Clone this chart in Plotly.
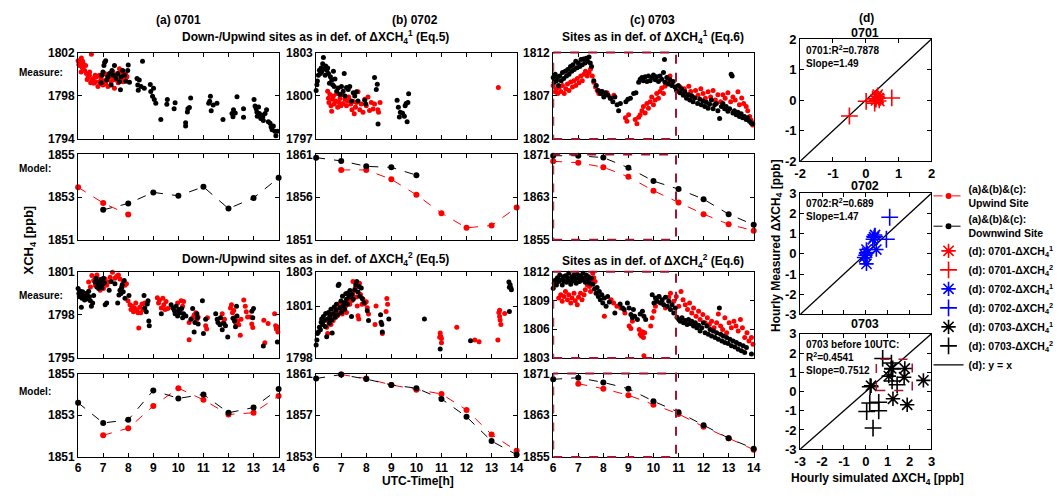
import plotly.graph_objects as go

W, H = 1059, 496
FONT = 'Liberation Sans'
RED, BLK, BLUE, BOXC = '#FF0000', '#000000', '#0000FF', '#A2142F'

def fx(p):
    return p / W

def fy(p):
    return 1 - p / H

# ---------------- data ----------------
hours = [6, 7, 8, 9, 10, 11, 12, 13, 14]
hour_labels = ['6', '7', '8', '9', '10', '11', '12', '13', '14']

# measurement, row 1 (def. dXCH4^1)
a1_up = [(6.0,1801.25),(6.03,1800.9),(6.08,1801.1),(6.13,1801.5),(6.16,1800.65),(6.21,1800.95),(6.26,1800.35),
         (6.33,1800.05),(6.4,1799.75),(6.46,1800.2),(6.53,1801.85),(6.55,1799.45),(6.63,1799.15),(6.73,1799.75),
         (6.79,1798.85),(6.86,1799.3),(6.92,1799.6),(6.99,1799.0),(7.06,1800.05),(7.12,1799.45),(7.19,1798.85),
         (7.25,1799.75),(7.32,1799.3),(7.39,1800.2),(7.45,1798.7),(7.52,1799.45),(7.65,1800.5),(7.72,1799.6),
         (7.78,1800.05),(7.87,1799.45),(7.95,1799.75),(6.05,1800.8),(6.1,1801.3),(6.2,1800.5),(6.3,1800.8),
         (6.45,1799.9),(6.6,1799.6),(6.7,1799.3),(6.85,1799.9),(6.95,1799.4),(7.1,1799.1),(7.2,1799.6),
         (7.3,1800.0),(7.4,1799.5),(7.55,1799.9),(7.6,1799.2),(7.7,1800.3),(7.8,1799.3),(7.9,1800.0),
         (6.12,1800.2),(6.18,1801.2),(6.36,1799.5),(6.5,1799.2),(6.68,1799.9),(6.9,1799.1),(7.15,1799.9)]
a1_dn = [(6.92,1799.2),(6.95,1799.9),(6.99,1800.2),(7.03,1800.8),(7.06,1801.1),(7.1,1801.25),(7.14,1799.45),
         (7.19,1799.75),(7.25,1800.05),(7.32,1799.0),(7.35,1800.35),(7.4,1799.9),(7.45,1800.8),(7.52,1799.6),
         (7.58,1800.05),(7.65,1799.3),(7.69,1798.55),(7.72,1799.75),(7.78,1800.35),(7.85,1799.9),(7.91,1799.35),
         (7.98,1800.35),(8.0,1800.85),(8.05,1799.25),(8.35,1799.6),(8.38,1799.0),(8.4,1798.5),(8.44,1799.45),
         (8.51,1798.85),(8.57,1801.2),(8.64,1798.7),(8.88,1799.05),(8.9,1798.4),(8.97,1797.95),(9.01,1798.7),
         (9.04,1797.65),(9.1,1797.3),(9.3,1795.8),(9.54,1797.2),(9.56,1797.65),(9.83,1796.8),(9.87,1797.35),
         (10.29,1795.5),(10.29,1795.2),(10.36,1796.5),(10.38,1796.8),(10.44,1796.9),(10.49,1797.8),(11.21,1797.3),
         (11.25,1797.5),(11.28,1797.95),(11.31,1796.6),(11.39,1797.15),(11.54,1797.3),(11.78,1795.8),(12.14,1796.35),
         (12.18,1796.05),(12.2,1796.7),(12.27,1796.4),(12.34,1797.9),(12.6,1796.0),(12.6,1796.8),(13.02,1797.65),
         (13.06,1797.05),(13.1,1796.8),(13.13,1796.5),(13.15,1796.1),(13.2,1796.95),(13.23,1796.35),(13.29,1795.9),
         (13.33,1796.2),(13.37,1796.05),(13.39,1795.7),(13.46,1796.35),(13.52,1796.7),(13.59,1795.6),(13.66,1795.45),
         (13.7,1795.1),(13.74,1794.85),(13.79,1795.2),(13.85,1794.7),(13.89,1794.3),(13.95,1794.7)]
b1_up = [(6.46,1800.31),(6.49,1799.82),(6.51,1799.53),(6.55,1800.09),(6.59,1799.31),(6.62,1798.93),(6.65,1799.76),
         (6.69,1799.98),(6.72,1799.42),(6.78,1799.64),(6.82,1800.13),(6.86,1799.2),(6.91,1799.53),(6.95,1799.8),
         (6.99,1799.31),(7.04,1800.09),(7.08,1799.46),(7.15,1799.76),(7.21,1799.31),(7.25,1799.64),(7.3,1799.91),
         (7.38,1799.42),(7.43,1799.02),(7.48,1799.6),(7.52,1798.75),(7.57,1799.2),(7.61,1799.53),(7.67,1800.27),
         (7.74,1799.02),(7.8,1799.42),(7.87,1798.86),(7.94,1799.76),(8.0,1799.31),(8.07,1799.91),(8.13,1798.97),
         (8.2,1799.53),(8.27,1799.08),(8.33,1799.42),(8.46,1799.02),(8.49,1798.86),(8.55,1799.53),(13.27,1800.58)]
b1_dn = [(6.0,1800.36),(6.03,1800.76),(6.05,1801.03),(6.09,1801.43),(6.13,1801.77),(6.17,1801.54),(6.2,1801.93),
         (6.22,1801.66),(6.26,1802.22),(6.29,1802.66),(6.32,1801.88),(6.36,1801.43),(6.38,1802.06),(6.42,1801.77),
         (6.46,1801.93),(6.49,1801.54),(6.53,1800.87),(6.57,1801.32),(6.62,1801.1),(6.66,1800.76),(6.69,1801.7),
         (6.72,1800.65),(6.75,1801.17),(6.82,1800.31),(6.88,1800.54),(6.95,1800.09),(7.01,1800.65),(7.08,1800.31),
         (7.12,1801.54),(7.15,1799.98),(7.21,1800.58),(7.28,1800.43),(7.34,1800.65),(7.41,1799.64),(7.48,1800.2),
         (7.54,1799.98),(7.61,1800.27),(7.67,1799.64),(7.94,1799.69),(7.98,1799.42),(8.33,1801.26),(8.4,1800.43),
         (8.44,1800.8),(8.47,1798.03),(9.23,1799.69),(9.28,1799.2),(9.32,1798.52),(9.36,1798.86),(9.45,1798.79),
         (9.52,1798.57),(9.55,1799.31),(9.59,1799.46),(9.63,1798.19),(9.66,1799.53),(9.69,1800.13)]
c1_up = [(6.0,1808.2),(6.08,1807.45),(6.13,1807.8),(6.18,1807.25),(6.24,1808.0),(6.3,1807.5),(6.37,1808.2),
         (6.44,1807.25),(6.5,1807.8),(6.57,1808.35),(6.63,1807.6),(6.7,1808.6),(6.77,1808.0),(6.83,1808.75),
         (6.9,1808.2),(6.96,1809.0),(7.03,1808.5),(7.1,1809.3),(7.16,1808.75),(7.23,1809.5),(7.29,1809.85),
         (7.36,1809.3),(7.43,1809.7),(7.49,1810.1),(7.56,1809.3),(7.62,1808.55),(7.69,1808.0),(7.76,1807.6),
         (7.82,1807.25),(7.93,1807.5),(8.02,1807.05),(8.15,1807.35),(8.28,1806.7),(8.42,1807.05),(8.88,1804.45),
         (8.94,1804.05),(9.01,1804.8),(9.27,1804.25),(9.34,1803.75),(9.41,1804.5),(9.47,1804.8),(9.54,1805.25),
         (9.6,1805.75),(9.67,1805.0),(9.74,1806.1),(9.8,1805.55),(9.87,1806.3),(9.93,1806.85),(10.0,1805.95),
         (10.07,1806.5),(10.13,1807.25),(10.2,1806.7),(10.26,1807.5),(10.33,1807.9),(10.4,1807.25),(10.46,1808.1),
         (10.59,1808.75),(10.66,1809.3),(10.73,1808.55),(10.86,1808.0),(10.96,1807.5),(11.06,1808.0),(11.15,1807.35),
         (11.23,1807.8),(11.32,1807.1),(11.41,1808.1),(11.49,1807.5),(11.58,1806.85),(11.68,1807.6),(11.78,1807.05),
         (11.89,1807.8),(11.98,1807.25),(12.07,1806.7),(12.18,1807.45),(12.28,1806.85),(12.38,1807.6),(12.47,1806.5),
         (12.57,1807.1),(12.68,1806.3),(12.77,1807.1),(12.86,1806.7),(12.97,1807.35),(13.08,1806.3),(13.17,1806.85),
         (13.26,1806.5),(13.37,1807.45),(13.43,1805.95),(13.52,1806.75),(13.6,1806.1),(13.7,1805.75),(13.76,1805.25),
         (13.84,1804.6),(13.9,1804.15),(13.96,1803.6)]
c1_dn = [(6.0,1809.1),(6.04,1808.55),(6.08,1809.5),(6.13,1808.75),(6.17,1809.1),(6.21,1808.2),(6.26,1809.3),
         (6.32,1808.75),(6.37,1809.7),(6.42,1809.0),(6.48,1809.85),(6.53,1809.3),(6.58,1810.05),(6.63,1809.5),
         (6.69,1810.4),(6.74,1809.85),(6.79,1810.6),(6.84,1810.05),(6.9,1811.0),(6.95,1810.25),(7.0,1810.8),
         (7.06,1810.4),(7.11,1811.2),(7.16,1810.6),(7.21,1811.25),(7.27,1810.8),(7.32,1811.35),(7.37,1811.0),
         (7.43,1811.5),(7.48,1810.8),(7.53,1810.4),(7.62,1808.75),(7.72,1808.2),(7.8,1807.6),(7.89,1807.25),
         (7.95,1807.5),(8.02,1806.85),(8.09,1807.35),(8.19,1807.05),(8.28,1806.7),(8.38,1806.3),(8.46,1806.85),
         (8.55,1805.95),(8.61,1805.25),(8.68,1806.1),(8.9,1806.3),(8.98,1806.6),(9.08,1806.7),(9.21,1807.25),
         (9.3,1807.35),(9.41,1808.55),(9.47,1808.9),(9.54,1809.1),(9.6,1808.75),(9.67,1809.2),(9.74,1808.65),
         (9.8,1809.3),(9.87,1808.75),(9.93,1809.1),(10.0,1809.4),(10.07,1808.85),(10.13,1809.2),(10.2,1808.65),
         (10.26,1809.3),(10.33,1808.9),(10.4,1809.7),(10.44,1811.2),(10.46,1808.55),(10.53,1809.1),(10.59,1808.35),
         (10.66,1808.85),(10.73,1808.2),(10.79,1808.65),(10.86,1808.0),(10.92,1807.6),(10.99,1808.2),(11.06,1807.35),
         (11.12,1807.8),(11.19,1807.05),(11.25,1807.5),(11.32,1806.7),(11.39,1807.1),(11.45,1806.5),(11.52,1807.0),
         (11.58,1806.3),(11.65,1806.75),(11.76,1806.1),(11.85,1806.6),(11.91,1805.95),(11.98,1806.4),(12.05,1805.75),
         (12.11,1806.25),(12.18,1805.55),(12.24,1806.0),(12.31,1806.5),(12.38,1805.5),(12.44,1805.95),(12.51,1806.1),
         (12.57,1805.25),(12.64,1804.35),(12.71,1805.75),(12.77,1806.1),(12.84,1805.5),(12.9,1805.75),(12.97,1805.2),
         (13.04,1805.5),(13.1,1809.5),(13.14,1809.3),(13.17,1805.0),(13.23,1805.25),(13.3,1804.8),(13.37,1805.1),
         (13.43,1804.6),(13.5,1804.9),(13.56,1804.45),(13.63,1804.6),(13.7,1804.25),(13.76,1804.45),(13.83,1804.05),
         (13.9,1803.85),(13.96,1803.75)]

# measurement, row 3 (def. dXCH4^2)
a3_up = [(6.42,1800.28),(6.49,1799.94),(6.55,1800.73),(6.62,1800.39),(6.68,1800.06),(6.75,1800.78),(6.82,1800.5),
         (6.88,1799.72),(6.95,1800.17),(7.01,1799.83),(7.08,1800.5),(7.14,1800.06),(7.21,1800.28),(7.28,1800.62),
         (7.37,1800.96),(7.47,1800.55),(7.54,1800.69),(7.61,1800.78),(7.67,1800.5),(7.74,1799.94),(7.8,1800.28),
         (7.87,1800.06),(7.93,1800.17),(7.99,1798.98),(8.07,1798.71),(8.11,1798.37),(8.16,1798.6),(8.21,1798.21),
         (8.25,1798.48),(8.3,1798.82),(8.34,1798.3),(8.39,1798.15),(8.42,1797.09),(8.46,1798.53),(8.5,1798.15),
         (8.55,1798.75),(8.59,1798.37),(8.66,1798.82),(9.16,1799.2),(9.21,1798.82),(9.25,1799.04),(9.32,1798.48),
         (9.38,1799.16),(9.42,1798.71),(9.47,1798.37),(9.51,1798.93),(9.58,1798.44),(9.97,1798.82),(10.04,1798.37),
         (10.11,1798.98),(10.17,1798.6),(10.21,1798.93),(10.43,1797.47),(10.43,1796.28),(10.57,1797.81),(10.63,1797.99),
         (10.7,1798.15),(10.74,1797.7),(10.79,1797.86),(11.09,1797.25),(11.13,1797.02),(11.16,1797.81),(11.75,1798.08),
         (11.79,1797.47),(11.84,1797.7),(12.08,1798.48),(12.12,1798.71),(12.16,1798.15),(12.21,1798.3),(12.25,1797.81),
         (12.28,1797.47),(12.32,1797.36),(12.37,1797.58),(12.41,1797.31),(12.47,1796.58),(12.5,1797.7),(12.61,1799.04),
         (12.67,1798.6),(12.71,1798.21),(12.76,1797.86),(12.87,1797.86),(12.93,1797.36),(12.97,1797.13),(13.41,1797.63),
         (13.45,1796.06),(13.58,1797.4),(13.84,1798.08),(13.88,1797.25),(13.91,1797.02),(13.93,1797.18),(13.97,1796.81)]
a3_dn = [(6.0,1799.83),(6.03,1799.49),(6.05,1799.27),(6.09,1799.65),(6.13,1799.38),(6.13,1798.53),(6.16,1799.16),
         (6.18,1799.61),(6.22,1799.34),(6.26,1799.04),(6.29,1799.49),(6.32,1799.2),(6.36,1799.43),(6.39,1799.11),
         (6.42,1799.65),(6.45,1799.27),(6.49,1798.98),(6.53,1798.6),(6.58,1798.82),(6.62,1799.34),(6.68,1800.28),
         (6.71,1800.55),(6.75,1799.94),(6.79,1800.17),(6.82,1799.83),(6.86,1800.33),(6.88,1800.06),(6.92,1800.46),
         (6.95,1799.88),(6.99,1800.17),(7.01,1800.55),(7.05,1800.24),(7.08,1798.71),(7.14,1798.82),(7.24,1799.72),
         (7.32,1800.33),(7.47,1800.17),(7.58,1798.82),(7.63,1799.38),(7.67,1799.72),(7.71,1799.49),(7.74,1799.88),
         (7.76,1800.1),(7.8,1799.61),(7.84,1800.39),(7.87,1799.16),(8.03,1799.34),(8.63,1799.34),(8.66,1798.48),
         (8.72,1798.21),(8.76,1798.75),(8.79,1798.98),(8.82,1797.58),(8.84,1797.25),(9.32,1798.08),(9.71,1798.71),
         (9.78,1798.48),(9.84,1798.3),(9.87,1798.08),(9.91,1798.6),(9.95,1798.21),(9.97,1797.92),(10.04,1798.37),
         (10.08,1798.15),(10.13,1798.44),(10.17,1797.81),(10.21,1798.08),(10.3,1797.92),(10.5,1797.7),(10.57,1798.44),
         (10.63,1796.81),(10.66,1797.47),(10.74,1798.08),(10.76,1797.81),(10.79,1797.36),(10.96,1798.98),(11.0,1796.7),
         (11.09,1797.7),(11.49,1798.08),(11.55,1797.7),(11.58,1797.47),(11.66,1797.31),(11.68,1797.81),(11.75,1796.96),
         (11.82,1797.4),(11.88,1797.25),(11.97,1796.47),(12.18,1797.76),(12.24,1797.58),(12.28,1797.18),(12.34,1797.92),
         (12.32,1798.6),(12.93,1798.26),(12.97,1797.81),(13.0,1798.44),(13.39,1795.83),(13.95,1796.12)]
b3_up = [(6.42,1799.79),(6.46,1799.42),(6.51,1800.08),(6.55,1800.36),(6.59,1799.94),(6.64,1800.55),(6.68,1800.17),
         (6.72,1800.64),(6.78,1800.36),(6.81,1800.83),(6.85,1800.45),(6.91,1801.15),(6.95,1800.64),(6.99,1800.92),
         (7.04,1800.55),(7.08,1801.21),(7.12,1800.77),(7.17,1801.02),(7.21,1800.64),(7.25,1801.3),(7.3,1801.49),
         (7.34,1801.11),(7.38,1801.58),(7.43,1801.34),(7.47,1802.43),(7.51,1801.87),(7.56,1802.06),(7.6,1801.53),
         (7.64,1801.02),(7.67,1800.45),(7.7,1800.26),(7.73,1802.34),(7.77,1801.68),(7.83,1801.11),(7.87,1801.4),
         (7.93,1801.15),(8.0,1801.26),(8.04,1800.92),(8.09,1800.55),(8.39,1801.02),(8.35,1799.94),(8.64,1799.42),
         (8.82,1801.45),(8.85,1801.11),(8.79,1800.7),(10.95,1799.45),(10.97,1799.26),(11.0,1799.13),(10.93,1799.2),
         (11.0,1798.89),(11.61,1799.79),(12.33,1799.04),(12.5,1798.94),(13.25,1799.04),(13.29,1800.64),(13.32,1800.4),
         (13.34,1800.21),(13.37,1799.94),(13.32,1800.77),(13.52,1800.58)]
b3_dn = [(6.0,1798.75),(6.03,1799.04),(6.05,1799.42),(6.09,1799.51),(6.13,1799.79),(6.17,1799.64),(6.2,1800.08),
         (6.22,1800.26),(6.26,1799.94),(6.29,1800.4),(6.33,1800.17),(6.36,1799.83),(6.38,1800.58),(6.42,1799.23),
         (6.46,1800.26),(6.49,1800.64),(6.53,1800.02),(6.55,1800.45),(6.59,1800.83),(6.62,1800.21),(6.64,1799.45),
         (6.68,1800.55),(6.72,1800.96),(6.75,1800.36),(6.79,1800.77),(6.81,1801.11),(6.85,1800.51),(6.88,1802.21),
         (6.91,1802.28),(6.95,1800.92),(6.99,1801.3),(7.01,1800.64),(7.05,1801.58),(7.08,1801.02),(7.12,1801.21),
         (7.14,1800.83),(7.18,1801.72),(7.21,1801.4),(7.25,1801.11),(7.27,1801.77),(7.31,1801.53),(7.35,1801.91),
         (7.41,1800.4),(7.44,1801.68),(7.48,1801.4),(7.54,1801.96),(7.58,1802.25),(7.62,1802.43),(7.67,1801.83),
         (7.71,1802.15),(7.74,1801.58),(7.8,1802.06),(7.84,1801.45),(7.91,1801.21),(8.04,1800.74),(8.09,1800.17),
         (8.57,1800.51),(8.59,1800.08),(8.62,1799.94),(8.64,1799.51),(8.9,1800.26),(10.32,1800.26),(10.95,1798.53),
         (12.16,1799.0),(13.71,1800.7),(13.69,1802.4),(13.74,1802.25),(13.77,1802.06),(13.79,1801.96),(13.71,1802.1)]
c3_up = [(6.22,1809.25),(6.3,1809.6),(6.36,1808.91),(6.43,1809.42),(6.49,1809.94),(6.57,1809.08),(6.62,1809.6),
         (6.7,1808.74),(6.75,1809.25),(6.83,1809.77),(6.88,1808.98),(6.96,1808.56),(7.01,1809.33),(7.09,1809.77),
         (7.15,1809.08),(7.23,1809.6),(7.28,1810.11),(7.36,1810.63),(7.41,1811.14),(7.45,1810.45),(7.49,1809.94),
         (7.54,1810.97),(7.58,1811.83),(7.62,1811.38),(7.67,1810.97),(8.04,1807.36),(8.31,1809.08),(8.41,1808.74),
         (8.54,1808.4),(8.7,1808.22),(8.86,1807.7),(9.03,1806.33),(9.1,1806.09),(9.16,1806.85),(9.43,1805.98),
         (9.47,1805.47),(9.52,1805.3),(9.56,1805.74),(9.6,1805.13),(9.62,1803.24),(9.65,1805.64),(9.89,1806.33),
         (9.95,1807.19),(10.02,1807.88),(10.08,1808.4),(10.12,1808.91),(10.22,1809.42),(10.35,1808.74),(10.48,1808.22),
         (10.61,1809.33),(10.68,1809.77),(10.81,1808.91),(10.91,1809.42),(11.01,1808.4),(11.1,1809.94),(11.18,1809.08),
         (11.27,1808.56),(11.36,1808.05),(11.44,1808.74),(11.53,1807.7),(11.6,1808.22),(11.7,1807.36),(11.8,1807.88),
         (11.86,1807.02),(11.97,1807.53),(12.06,1806.68),(12.15,1807.19),(12.23,1806.5),(12.32,1806.85),(12.42,1806.16),
         (12.52,1806.68),(12.59,1807.6),(12.68,1806.33),(12.76,1805.98),(12.85,1807.19),(12.92,1805.64),(13.02,1806.68),
         (13.11,1806.16),(13.21,1806.85),(13.29,1806.33),(13.38,1805.81),(13.47,1807.02),(13.55,1806.16),(13.64,1805.13),
         (13.73,1805.64),(13.81,1804.78),(13.91,1805.13),(13.97,1804.44)]
c3_dn = [(6.0,1810.28),(6.04,1810.8),(6.09,1811.14),(6.13,1810.63),(6.17,1811.38),(6.22,1810.97),(6.26,1811.66),
         (6.3,1811.14),(6.36,1810.63),(6.4,1811.48),(6.43,1811.04),(6.49,1811.59),(6.53,1810.9),(6.57,1811.38),
         (6.62,1811.83),(6.66,1811.14),(6.7,1810.7),(6.75,1811.48),(6.79,1811.04),(6.83,1811.66),(6.88,1811.24),
         (6.92,1810.8),(6.96,1811.73),(7.01,1811.38),(7.05,1810.97),(7.09,1811.59),(7.15,1811.14),(7.19,1811.83),
         (7.23,1811.31),(7.28,1810.9),(7.32,1811.66),(7.36,1811.14),(7.41,1811.48),(7.45,1810.8),(7.52,1811.31),
         (7.58,1810.7),(7.65,1810.21),(7.71,1809.77),(7.75,1810.35),(7.8,1809.42),(7.84,1809.94),(7.88,1809.08),
         (7.94,1809.6),(7.98,1808.74),(8.04,1809.25),(8.11,1808.4),(8.17,1809.42),(8.24,1808.84),(8.46,1807.7),
         (8.67,1808.63),(8.77,1808.22),(8.83,1808.05),(8.96,1808.74),(9.03,1808.22),(9.1,1807.53),(9.16,1807.19),
         (9.2,1808.05),(9.25,1807.36),(9.36,1807.02),(9.47,1807.6),(9.56,1807.88),(9.62,1807.36),(9.69,1807.02),
         (9.95,1809.6),(10.02,1808.74),(10.08,1809.25),(10.15,1808.91),(10.22,1809.42),(10.28,1808.74),(10.35,1809.08),
         (10.41,1808.56),(10.48,1809.33),(10.55,1808.4),(10.61,1808.91),(10.68,1808.05),(10.74,1808.56),(10.81,1807.7),
         (10.87,1808.22),(10.94,1807.26),(11.01,1807.02),(11.07,1806.85),(11.14,1807.19),(11.2,1806.68),(11.27,1806.92),
         (11.34,1806.5),(11.4,1807.02),(11.47,1806.57),(11.53,1806.85),(11.6,1806.33),(11.67,1806.68),(11.73,1806.16),
         (11.8,1806.43),(11.86,1805.81),(11.93,1806.16),(11.99,1806.68),(12.06,1805.64),(12.13,1806.33),(12.19,1805.47),
         (12.26,1805.98),(12.32,1805.3),(12.39,1805.81),(12.46,1805.13),(12.52,1805.64),(12.59,1804.95),(12.63,1808.22),
         (12.68,1805.47),(12.73,1804.78),(12.79,1805.3),(12.85,1804.61),(12.92,1805.13),(12.98,1804.51),(13.05,1804.95),
         (13.11,1804.27),(13.18,1804.78),(13.25,1804.16),(13.31,1804.61),(13.38,1803.92),(13.44,1804.44),(13.51,1803.75),
         (13.58,1804.27),(13.64,1803.58),(13.71,1804.1),(13.91,1803.41)]

# model, hourly (None = no value)
a2_up = [1853.46, 1852.72, 1852.18, None, None, None, None, None, None]
a2_dn = [None, 1852.4, 1852.7, 1853.22, 1853.06, 1853.48, 1852.46, 1852.96, 1853.9]
b2_up = [None, 1859.18, 1859.18, 1858.08, 1856.27, 1854.11, 1852.4, 1852.67, 1854.79]
b2_dn = [1860.62, 1860.24, 1859.6, 1859.48, 1858.57, None, None, None, None]
c2_up = [1869.7, 1869.45, 1868.6, 1866.8, 1864.2, 1862.0, 1859.8, 1857.9, 1856.7]
c2_dn = [1870.75, 1870.75, 1870.4, 1868.5, 1866.0, 1864.5, 1862.6, 1859.8, 1857.8]
a4_up = [None, 1852.04, 1852.38, 1853.44, 1854.3, 1853.74, 1853.04, 1853.12, 1853.93]
a4_dn = [1853.6, 1852.63, 1852.78, 1854.19, 1853.81, 1854.0, 1853.12, 1853.37, 1854.26]
b4_up = [None, 1860.9, 1860.53, 1859.91, 1859.44, 1859.04, 1857.51, 1855.15, 1853.59]
b4_dn = [1860.53, 1860.9, 1860.47, 1859.91, 1859.6, 1858.57, 1856.86, 1854.52, 1853.22]
c4_up = [None, 1869.05, 1868.1, 1866.85, 1865.0, 1863.25, 1860.8, 1858.6, 1856.4]
c4_dn = [1869.9, 1870.2, 1869.3, 1868.1, 1865.7, 1863.6, 1861.1, 1858.6, 1856.6]

# y ticks of time-series panels [row][col]
yticks = [
    [[1794, 1798, 1802], [1797, 1800, 1803], [1802, 1807, 1812]],
    [[1851, 1853, 1855], [1851, 1856, 1861], [1855, 1863, 1871]],
    [[1795, 1798, 1801], [1798, 1801, 1803], [1803, 1806, 1809, 1812]],
    [[1851, 1853, 1855], [1853, 1857, 1861], [1855, 1863, 1871]],
]
box_end_hour = 10.9   # dashed box in (c): before 10 UTC hours

# (d) hourly simulated vs measured dXCH4
d0701_s1_x = [0.34, 0.39, 0.31, 0.41, 0.36]
d0701_s1_y = [0.12, 0.06, -0.01, -0.03, 0.18]
d0701_s2_x = [-0.5, 0.01, 0.27, 0.79, 0.29]
d0701_s2_y = [-0.52, -0.04, -0.1, 0.07, 0.04]
d0702_s1_x = [0.38, 0.42, 0.32, 0.48, 0.03, -0.02, -0.08, 0.03, 0.06]
d0702_s1_y = [0.82, 0.93, 0.72, 0.21, 0.21, -0.07, -0.18, -0.5, 0.06]
d0702_s2_x = [1.09, 0.94, 0.4]
d0702_s2_y = [1.81, 0.72, 0.85]
d0703_s1_x = [0.24, 1.16, 1.05, 1.78, 1.75, 1.24, 1.89, 2.63]
d0703_s1_y = [0.3, 1.2, 0.8, 1.2, 0.74, -0.38, -0.69, 0.58]
d0703_s2_x = [0.77, 1.17, 1.23, 1.2, 1.43, 0.18, 0.59, 0.59, 0.04, 0.33, 0.2]
d0703_s2_y = [1.72, 1.48, 1.17, 0.55, 0.35, -0.6, -0.56, -1.0, -1.04, -1.9, 0.25]
d_box_x = [0.48, 2.12]
d_box_y = [0.05, 1.68]
d_ticks = [[-2, -1, 0, 1, 2], [-3, -2, -1, 0, 1, 2, 3], [-3, -2, -1, 0, 1, 2, 3]]
d_titles = ['0701', '0702', '0703']
d_notes = ['0701:R<sup>2</sup>=0.7878<br>Slope=1.49',
           '0702:R<sup>2</sup>=0.689<br>Slope=1.47',
           '0703 before 10UTC:<br>R<sup>2</sup>=0.4541<br>Slope=0.7512']

# ---------------- layout geometry (pixels) ----------------
col_px = [(73, 276), (314, 517), (554, 757)]
row_px = [(47, 136), (152, 240), (273, 362), (378, 464)]
d_x_px = (804, 937)
d_row_px = [(33, 159), (192, 317), (337, 456)]

fig = go.Figure()
layout = {}

def axis_style(**kw):
    base = dict(showline=True, linecolor='black', linewidth=1, mirror='ticks', ticks='inside',
                ticklen=4, tickwidth=1, tickcolor='black', showgrid=False, zeroline=False,
                tickfont=dict(family=FONT, size=12, color='black', weight='bold'))
    base.update(kw)
    return base

meas = {(0, 0): (a1_up, a1_dn), (0, 1): (b1_up, b1_dn), (0, 2): (c1_up, c1_dn),
        (2, 0): (a3_up, a3_dn), (2, 1): (b3_up, b3_dn), (2, 2): (c3_up, c3_dn)}
model = {(1, 0): (a2_up, a2_dn), (1, 1): (b2_up, b2_dn), (1, 2): (c2_up, c2_dn),
         (3, 0): (a4_up, a4_dn), (3, 1): (b4_up, b4_dn), (3, 2): (c4_up, c4_dn)}

shapes = []
for r in range(4):
    for c in range(3):
        n = r * 3 + c + 1
        xs = '' if n == 1 else str(n)
        yt = yticks[r][c]
        layout['xaxis' + xs] = axis_style(
            domain=[fx(col_px[c][0]), fx(col_px[c][1])], range=[6, 14], tickvals=hours,
            ticktext=hour_labels, showticklabels=(r == 3), anchor='y' + xs)
        layout['yaxis' + xs] = axis_style(
            domain=[fy(row_px[r][1]), fy(row_px[r][0])], range=[yt[0], yt[-1]], tickvals=yt,
            ticktext=[str(v) for v in yt], anchor='x' + xs)
        if (r, c) in meas:
            up, dn = meas[(r, c)]
            for series, col in ((up, RED), (dn, BLK)):
                t, v = zip(*series)
                fig.add_trace(go.Scatter(x=list(t), y=list(v), mode='markers', xaxis='x' + xs, yaxis='y' + xs,
                                         marker=dict(color=col, size=5), showlegend=False, cliponaxis=False))
        else:
            up, dn = model[(r, c)]
            for series, col, nm in ((up, RED, '(a)&(b)&(c):<br>Upwind Site'),
                                    (dn, BLK, '(a)&(b)&(c):<br>Downwind Site')):
                fig.add_trace(go.Scatter(x=hours, y=series, mode='lines+markers', xaxis='x' + xs, yaxis='y' + xs,
                                         line=dict(color=col, width=1, dash='dash'),
                                         marker=dict(color=col, size=6), name=nm, legendgroup=nm,
                                         showlegend=(r == 1 and c == 0), cliponaxis=False))
        if c == 2:
            shapes.append(dict(type='rect', xref='x' + xs, yref='y' + xs + ' domain', x0=6, x1=box_end_hour,
                               y0=0, y1=1, line=dict(color=BOXC, width=2, dash='dash'), layer='above'))

# (d) scatter panels
d_data = [
    ((d0701_s1_x, d0701_s1_y, RED, '(d): 0701-ΔXCH<sub>4</sub><sup>1</sup>'),
     (d0701_s2_x, d0701_s2_y, RED, '(d): 0701-ΔXCH<sub>4</sub><sup>2</sup>')),
    ((d0702_s1_x, d0702_s1_y, BLUE, '(d): 0702-ΔXCH<sub>4</sub><sup>1</sup>'),
     (d0702_s2_x, d0702_s2_y, BLUE, '(d): 0702-ΔXCH<sub>4</sub><sup>2</sup>')),
    ((d0703_s1_x, d0703_s1_y, BLK, '(d): 0703-ΔXCH<sub>4</sub><sup>1</sup>'),
     (d0703_s2_x, d0703_s2_y, BLK, '(d): 0703-ΔXCH<sub>4</sub><sup>2</sup>')),
]
for k in range(3):
    n = 13 + k
    xs = str(n)
    tk = d_ticks[k]
    lim = [tk[0], tk[-1]]
    layout['xaxis' + xs] = axis_style(domain=[fx(d_x_px[0]), fx(d_x_px[1])], range=lim, tickvals=tk,
                                      ticktext=[str(v) for v in tk], showticklabels=(k != 1), anchor='y' + xs,
                                      tickfont=dict(family=FONT, size=13, color='black', weight='bold'))
    layout['yaxis' + xs] = axis_style(domain=[fy(d_row_px[k][1]), fy(d_row_px[k][0])], range=lim, tickvals=tk,
                                      ticktext=[str(v) for v in tk], anchor='x' + xs,
                                      tickfont=dict(family=FONT, size=13, color='black', weight='bold'))
    fig.add_trace(go.Scatter(x=lim, y=lim, mode='lines', xaxis='x' + xs, yaxis='y' + xs,
                             line=dict(color='black', width=1.3), name='(d): y = x',
                             legendgroup='yx', showlegend=(k == 2)))
    s1, s2 = d_data[k]
    for (xx, yy, col, nm), sym in ((s1, 'asterisk-open'), (s2, 'cross-thin-open')):
        fig.add_trace(go.Scatter(x=xx, y=yy, mode='markers', xaxis='x' + xs, yaxis='y' + xs, name=nm,
                                 legendgroup=nm, cliponaxis=False,
                                 marker=dict(symbol=sym, size=12, color=col, line=dict(color=col, width=1.6))))
    if k == 2:
        shapes.append(dict(type='rect', xref='x' + xs, yref='y' + xs, x0=d_box_x[0], x1=d_box_x[1],
                           y0=d_box_y[0], y1=d_box_y[1], line=dict(color=BOXC, width=1.5, dash='dash'),
                           layer='above'))

# legend order: upwind, downwind, then (d) items, then y=x
order = {'(a)&(b)&(c):<br>Upwind Site': 0, '(a)&(b)&(c):<br>Downwind Site': 1}
for i, nm in enumerate([d_data[0][0][3], d_data[0][1][3], d_data[1][0][3], d_data[1][1][3],
                        d_data[2][0][3], d_data[2][1][3]]):
    order[nm] = 2 + i
order['(d): y = x'] = 9
for tr in fig.data:
    if tr.name in order:
        tr.legendrank = order[tr.name] * 10

# ---------------- annotations ----------------
anns = []

def ann(text, x, y, size=12, xanchor='center', yanchor='middle', angle=0, align='center'):
    anns.append(dict(text=text, x=fx(x), y=fy(y), xref='paper', yref='paper', showarrow=False,
                     xanchor=xanchor, yanchor=yanchor, textangle=angle, align=align,
                     font=dict(family=FONT, size=size, color='black', weight='bold')))

ann('(a) 0701', 175, 13)
ann('(b) 0702', 414, 13)
ann('(c) 0703', 655, 13)
ann('Down-/Upwind sites as in def. of ΔXCH<sub>4</sub><sup>1</sup> (Eq.5)', 176, 31, xanchor='left')
ann('Sites as in def. of ΔXCH<sub>4</sub><sup>1</sup> (Eq.6)', 655, 31)
ann('Down-/Upwind sites as in def. of ΔXCH<sub>4</sub><sup>2</sup> (Eq.5)', 176, 260, xanchor='left')
ann('Sites as in def. of ΔXCH<sub>4</sub><sup>2</sup> (Eq.6)', 655, 262)
for yy, t in ((68, 'Measure:'), (167, 'Model:'), (297, 'Measure:'), (397, 'Model:')):
    ann(t, 11, yy, size=10, xanchor='left')
ann('XCH<sub>4</sub> [ppb]', 24, 240, size=13, angle=-90)
ann('UTC-Time[h]', 417, 489, size=12)
ann('(d)', 871, 11, size=12)
for k, yy in enumerate((27, 185, 327)):
    ann(d_titles[k], 870, yy, size=12.5)
for k, yy in enumerate((36, 194, 340)):
    ann(d_notes[k], 808, yy, size=10, xanchor='left', yanchor='top', align='left')
ann('Hourly Measured ΔXCH<sub>4</sub> [ppb]', 780, 246, size=12, angle=-90)
ann('Hourly simulated ΔXCH<sub>4</sub> [ppb]', 882, 487, size=12)

layout.update(dict(
    width=W, height=H, margin=dict(l=0, r=0, t=0, b=0), autosize=False,
    paper_bgcolor='white', plot_bgcolor='white',
    font=dict(family=FONT, size=11, color='black'),
    shapes=shapes, annotations=anns,
    legend=dict(x=fx(934), y=fy(174), xanchor='left', yanchor='top', bgcolor='rgba(0,0,0,0)',
                font=dict(family=FONT, size=10.5, color='black', weight='bold'),
                tracegroupgap=9, itemwidth=30, traceorder='normal'),
))
fig.update_layout(**layout)
fig.write_html('out.html')
